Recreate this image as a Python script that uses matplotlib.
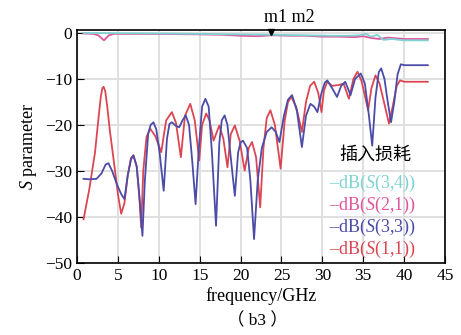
import matplotlib
matplotlib.use("Agg")
import matplotlib.pyplot as plt

plt.rcParams['font.family'] = ['Liberation Serif', 'Noto Sans CJK SC']
plt.rcParams['mathtext.fontset'] = 'custom'
plt.rcParams['mathtext.rm'] = 'Liberation Serif'
plt.rcParams['mathtext.it'] = 'Liberation Serif:italic'

# S(1,1), red
f_s11 = [0.8, 1.5, 2.2, 2.6, 2.9, 3.1, 3.25, 3.45, 3.7, 4.0, 4.6, 5.0, 5.4, 5.8, 6.2, 6.6, 6.9,
         7.3, 7.6, 7.85, 8.1, 8.5, 8.95, 9.6, 10.3, 10.9, 11.6, 12.1, 12.7, 13.2, 13.85, 14.4,
         14.95, 15.3, 15.8, 16.2, 16.7, 17.4, 17.9, 18.4, 18.8, 19.3, 19.9, 20.5, 21.0, 21.4,
         21.9, 22.4, 22.8, 23.2, 23.65, 24.2, 24.9, 25.4, 25.8, 26.2, 26.8, 27.5, 28.0, 28.5,
         29.0, 29.5, 29.9, 30.2, 30.6, 31.2, 32.0, 32.6, 33.25, 33.8, 34.3, 34.8, 35.6, 36.0,
         36.5, 37.0, 37.6, 38.15, 38.6, 39.1, 39.5, 40.0, 42.9]
s11 = [-40.5, -34, -26, -19, -14, -12, -11.7, -12.6, -16, -21, -29.2, -35, -39.3, -37, -31,
       -27.2, -26.6, -29, -35, -42.3, -30, -22.6, -20.8, -22.5, -25.9, -19, -17.2, -19.5, -27,
       -18, -15.4, -19, -27.7, -20, -17.5, -19, -23.4, -20.1, -23, -29.2, -22, -20.1, -23.5,
       -29.9, -25, -23.7, -27, -37.9, -25, -18.5, -16.8, -20, -29.5, -19, -15, -13.9, -16,
       -21.5, -15, -11.5, -10.6, -13, -17.2, -12.5, -10.6, -11.5, -11.3, -11, -14.3, -10, -8.4,
       -10.5, -16.8, -12, -9.2, -11, -15.5, -19.7, -16, -11.5, -10.3, -10.6, -10.6]

# S(3,3), blue
f_s33 = [0.8, 1.5, 2.4, 3.0, 3.5, 3.84, 4.3, 4.9, 5.4, 5.8, 6.2, 6.6, 6.9, 7.3, 7.7, 8.0, 8.3,
         8.7, 9.0, 9.35, 9.7, 10.1, 10.6, 11.0, 11.3, 11.6, 12.1, 12.5, 12.9, 13.3, 13.7, 14.1,
         14.5, 14.9, 15.3, 15.7, 16.1, 16.5, 17.0, 17.4, 17.7, 18.05, 18.4, 18.8, 19.3, 19.7,
         20.0, 20.3, 20.8, 21.2, 21.65, 22.1, 22.6, 23.2, 23.8, 24.3, 24.75, 25.3, 25.8, 26.3,
         26.9, 27.5, 28.0, 28.55, 29.0, 29.4, 29.9, 30.3, 30.6, 31.2, 31.8, 32.3, 32.8, 33.45,
         34.0, 34.7, 35.2, 35.7, 36.1, 36.5, 36.9, 37.2, 37.6, 38.0, 38.4, 38.8, 39.2, 39.6,
         40.0, 42.9]
s33 = [-31.7, -31.8, -31.7, -30.5, -28.6, -28.3, -30, -33, -35, -36.1, -31, -27.5, -26.6, -29,
       -37, -44.1, -32, -22, -20, -19.4, -21, -26, -34.3, -23, -19.8, -19.4, -20.2, -20.5, -19,
       -17.9, -20, -28, -37.2, -25, -16, -14.3, -16, -26, -41.9, -24, -19, -17.9, -20, -27,
       -35.4, -26, -23.8, -23.4, -25, -32, -44.8, -32, -25, -21.5, -20.5, -21.5, -23.7, -18,
       -14.5, -13.5, -17, -24.8, -18, -15.4, -16, -17.2, -13, -10.8, -10.3, -12, -13.9, -11.5,
       -10.6, -13.5, -10, -8.8, -11, -18, -24.5, -14, -8.5, -7.7, -10, -15, -19.4, -15, -9,
       -6.8, -7.0, -7.0]

# S(2,1), magenta
f_s21 = [0.8, 2.0, 2.6, 3.3, 3.9, 4.5, 10, 15, 18, 20, 22, 24, 26, 28, 30, 32, 34, 35, 36, 37,
         38, 40, 42.9]
s21 = [-0.1, -0.2, -0.5, -1.6, -0.5, -0.2, -0.2, -0.3, -0.4, -0.6, -0.7, -0.5, -0.6, -0.6,
       -0.8, -0.8, -0.9, -0.7, -1.1, -1.3, -1.0, -1.3, -1.3]

# S(3,4), cyan
f_s34 = [0.8, 10, 15, 20, 24, 28, 31, 33, 34.5, 35.3, 36, 36.7, 37.5, 38.5, 40, 42.9]
s34 = [0.0, -0.1, -0.2, -0.3, -0.4, -0.5, -0.6, -0.6, -0.5, -0.2, -0.8, -0.4, -1.5, -1.3,
       -1.6, -1.6]

marker_f = 23.7

c_red = '#dc4652'
c_blue = '#4c4ca8'
c_mag = '#e0559e'
c_cyan = '#7fd2d2'

W, H = 461, 335
fig = plt.figure(figsize=(W / 100, H / 100), dpi=100)
ax = fig.add_axes([77 / W, 1 - 263 / H, (445 - 77) / W, (263 - 30) / H])

ax.grid(True, color='#e0e0e0', linewidth=1.4)
ax.set_axisbelow(True)

ax.plot(f_s21, s21, color=c_mag, lw=1.3)
ax.plot(f_s34, s34, color=c_cyan, lw=1.3)
ax.plot(f_s11, s11, color=c_red, lw=1.3)
ax.plot(f_s33, s33, color=c_blue, lw=1.3)

ax.plot([marker_f], [0.25], marker='v', color='black', markersize=5, clip_on=False)

ax.set_xlim(0, 45)
ax.set_ylim(-50, 0.65)
ax.set_xticks(range(0, 46, 5))
ax.set_yticks(range(-50, 1, 10))
ax.tick_params(direction='in', length=5, labelsize=12.5, colors='black')
for s in ax.spines.values():
    s.set_linewidth(1.2)

ax.set_xlabel('frequency/GHz', fontsize=13, labelpad=2)
ax.set_ylabel('$\\mathit{S}$ parameter', fontsize=13, labelpad=4)

fig.text(264 / W, 1 - 17 / H, 'm1 m2', fontsize=13, ha='left', va='center')
fig.text(257 / W, 1 - 321 / H, '（ b3 ）', fontsize=12.5, ha='center', va='center')

fig.text(375 / W, 1 - 155 / H, '插入损耗', fontsize=13, ha='center', va='center',
         family=['Noto Sans CJK SC'])
labels = ['3,4', '2,1', '3,3', '1,1']
colors = [c_cyan, c_mag, c_blue, c_red]
rows = [183, 205, 227, 249]
for lab, col, py in zip(labels, colors, rows):
    fig.text(329 / W, 1 - py / H, '–dB($\\mathit{S}$(' + lab + '))', fontsize=13,
             color=col, ha='left', va='center')

fig.savefig('out.png', dpi=100)
